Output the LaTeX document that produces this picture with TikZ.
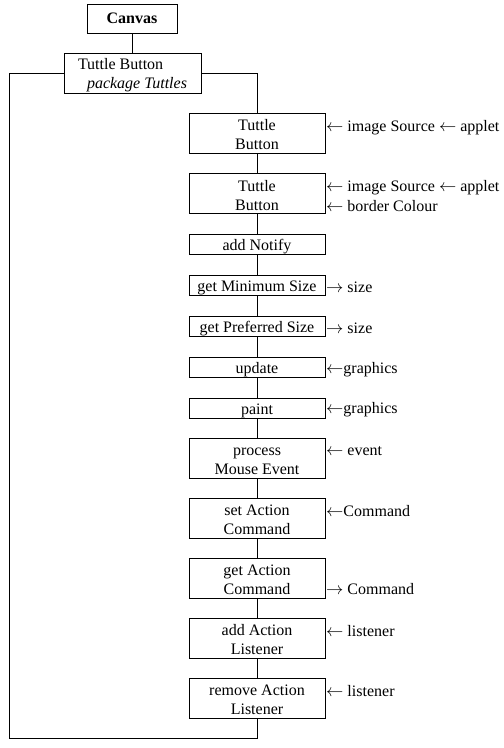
\documentclass[tikz,border=0pt]{standalone}
\usepackage{fontspec}
\setmainfont{Liberation Serif}

\begin{document}
\begin{tikzpicture}[x=1pt,y=-1pt,
    txt/.style={font=\fontsize{16}{19}\selectfont},
    box/.style={txt, draw, minimum width=136pt, inner sep=0pt, align=center},
    one/.style={box, minimum height=20pt, text height=13pt, text depth=1pt},
    two/.style={box, minimum height=40pt, text height=33.5pt, text depth=0pt},
    lbl/.style={txt, anchor=west, inner sep=0pt, yshift=-1.5pt}]
    \useasboundingbox (0,0) rectangle (504,748);

    \node [box, minimum width=90pt, minimum height=29pt, font=\fontsize{16}{19}\selectfont\bfseries] (canvas) at (132,18.5) {Canvas};
    \node [box, minimum width=137pt, minimum height=40pt, align=left, text height=31pt, text depth=0pt] (pkg) at (132.5,73) {Tuttle Button\\\hspace*{9pt}\textit{package Tuttles}};

    \node [two] (b1) at (257,133) {Tuttle\\Button};
    \node [two] (b2) at (257,193.5) {Tuttle\\Button};
    \node [one] (b3) at (257,244) {add Notify};
    \node [one] (b4) at (257,285) {get Minimum Size};
    \node [one] (b5) at (257,326) {get Preferred Size};
    \node [one] (b6) at (257,367) {update};
    \node [one] (b7) at (257,408) {paint};
    \node [two] (b8) at (257,458) {process\\Mouse Event};
    \node [two] (b9) at (257,518) {set Action\\Command};
    \node [two] (b10) at (257,578) {get Action\\Command};
    \node [two] (b11) at (257,638) {add Action\\Listener};
    \node [two] (b12) at (257,698) {remove Action\\Listener};

    \node [lbl] (l1) at (326,126) {$\leftarrow$ image Source $\leftarrow$ applet};
    \node [lbl] (l2) at (326,186) {$\leftarrow$ image Source $\leftarrow$ applet};
    \node [lbl] (l2b) at (326,205) {$\leftarrow$ border Colour};
    \node [lbl] (l4) at (326,286) {$\rightarrow$ size};
    \node [lbl] (l5) at (326,327) {$\rightarrow$ size};
    \node [lbl] (l6) at (326,368) {$\leftarrow$graphics};
    \node [lbl] (l7) at (326,408) {$\leftarrow$graphics};
    \node [lbl] (l8) at (326,450) {$\leftarrow$ event};
    \node [lbl] (l9) at (326,510) {$\leftarrow$Command};
    \node [lbl] (l10) at (326,588) {$\rightarrow$ Command};
    \node [lbl] (l11) at (326,630) {$\leftarrow$ listener};
    \node [lbl] (l12) at (326,690) {$\leftarrow$ listener};

    \draw (canvas) -- (canvas |- pkg.north);
    \draw (pkg.east) -| (b1.north);
    \foreach \a/\b in {b1/b2,b2/b3,b3/b4,b4/b5,b5/b6,b6/b7,b7/b8,b8/b9,b9/b10,b10/b11,b11/b12}
        \draw (\a) -- (\b);

    \coordinate (corner) at (9,738);
    \draw (pkg.west) -| (corner) -| (b12.south);
\end{tikzpicture}
\end{document}
